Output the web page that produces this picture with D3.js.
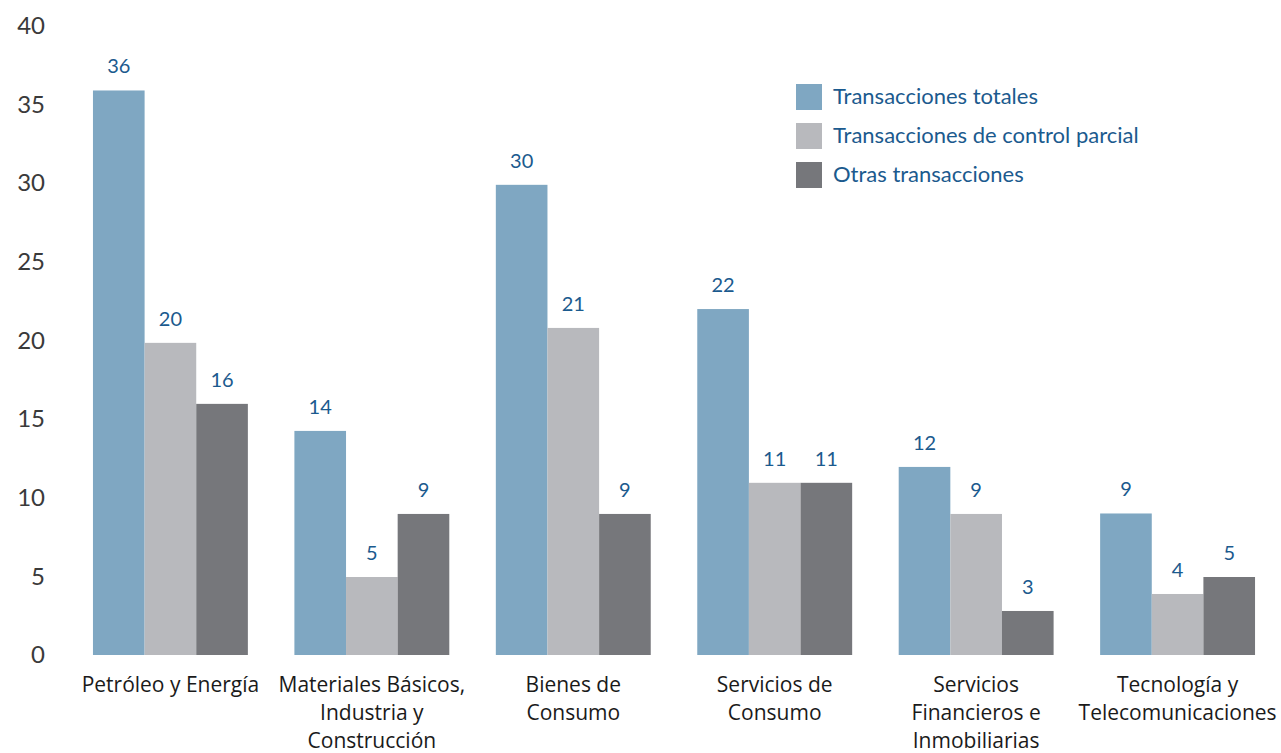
<!DOCTYPE html>
<html>
<head>
<meta charset="utf-8">
<script src="https://cdn.jsdelivr.net/npm/d3@7"></script>
<style>
  body { margin: 0; background: #fff; }
  svg { display: block; }
</style>
</head>
<body>
<div id="chart"></div>
<script>
// data (bar heights as drawn, labels rounded)
var categories = [
  ["Petróleo y Energía"],
  ["Materiales Básicos,", "Industria y", "Construcción"],
  ["Bienes de", "Consumo"],
  ["Servicios de", "Consumo"],
  ["Servicios", "Financieros e", "Inmobiliarias"],
  ["Tecnología y", "Telecomunicaciones"]
];
var seriesNames = ["Transacciones totales", "Transacciones de control parcial", "Otras transacciones"];
var totales = [35.9, 14.25, 29.9, 22, 11.96, 9];
var parciales = [19.85, 4.96, 20.8, 10.95, 8.97, 3.88];
var otras = [15.97, 8.97, 8.97, 10.95, 2.8, 4.96];
var yTicks = [0, 5, 10, 15, 20, 25, 30, 35, 40];

var colors = ["#7fa7c2", "#b8b9bd", "#76777b"];
var W = 1281, H = 753;

var svg = d3.select("#chart").append("svg")
  .attr("width", W)
  .attr("height", H);

var keys = categories.map(function(d, i) { return "c" + i; });
var rows = keys.map(function(k, i) {
  return {key: k, label: categories[i], values: [totales[i], parciales[i], otras[i]]};
});

// x: group bands, then sub bands for the three series
var x0 = d3.scaleBand()
  .domain(keys)
  .range([69.7, 1278.3])
  .paddingInner(0.231)
  .paddingOuter(0.1155);

var x1 = d3.scaleBand()
  .domain([0, 1, 2])
  .range([0, x0.bandwidth()]);

var y = d3.scaleLinear()
  .domain([0, 40])
  .range([655, 26]);

// Y axis: labels only
var yAxis = svg.append("g")
  .attr("transform", "translate(45,0)")
  .call(d3.axisLeft(y).tickValues(yTicks).tickSize(0).tickPadding(0));
yAxis.select(".domain").remove();
yAxis.selectAll("text")
  .attr("font-family", "Lato, 'Open Sans', sans-serif")
  .attr("font-size", 24)
  .attr("fill", "#3a3a3a");

// bars
var groups = svg.selectAll("g.grp")
  .data(rows)
  .enter().append("g")
  .attr("class", "grp")
  .attr("transform", function(d) { return "translate(" + x0(d.key) + ",0)"; });

groups.selectAll("rect")
  .data(function(d) { return d.values; })
  .enter().append("rect")
  .attr("x", function(d, i) { return x1(i); })
  .attr("y", function(d) { return y(d); })
  .attr("width", x1.bandwidth())
  .attr("height", function(d) { return y(0) - y(d); })
  .attr("fill", function(d, i) { return colors[i]; });

groups.selectAll("text.val")
  .data(function(d) { return d.values; })
  .enter().append("text")
  .attr("class", "val")
  .attr("x", function(d, i) { return x1(i) + x1.bandwidth() / 2; })
  .attr("y", function(d) { return y(d) - 17; })
  .attr("text-anchor", "middle")
  .attr("font-family", "Lato, 'Open Sans', sans-serif")
  .attr("font-size", 20)
  .attr("fill", "#1b5a8e")
  .text(function(d) { return Math.round(d); });

// X axis category labels (multi-line)
var xl = svg.selectAll("text.cat")
  .data(rows)
  .enter().append("text")
  .attr("class", "cat")
  .attr("text-anchor", "middle")
  .attr("font-family", "'Open Sans', 'Noto Sans', sans-serif")
  .attr("font-size", 21)
  .attr("fill", "#1a1a1a")
  .attr("transform", function(d) { return "translate(" + (x0(d.key) + x0.bandwidth() / 2) + ",692)"; });

xl.selectAll("tspan")
  .data(function(d) { return d.label; })
  .enter().append("tspan")
  .attr("x", 0)
  .attr("y", function(d, i) { return i * 28; })
  .text(function(d) { return d; });

// legend
var legend = svg.append("g")
  .attr("transform", "translate(796,84)");

var li = legend.selectAll("g")
  .data(seriesNames)
  .enter().append("g")
  .attr("transform", function(d, i) { return "translate(0," + (i * 39) + ")"; });

li.append("rect")
  .attr("width", 26)
  .attr("height", 26)
  .attr("fill", function(d, i) { return colors[i]; });

li.append("text")
  .attr("x", 37)
  .attr("y", 20)
  .attr("font-family", "Lato, 'Open Sans', sans-serif")
  .attr("font-size", 22)
  .attr("fill", "#1b5a8e")
  .text(function(d) { return d; });
</script>
</body>
</html>
